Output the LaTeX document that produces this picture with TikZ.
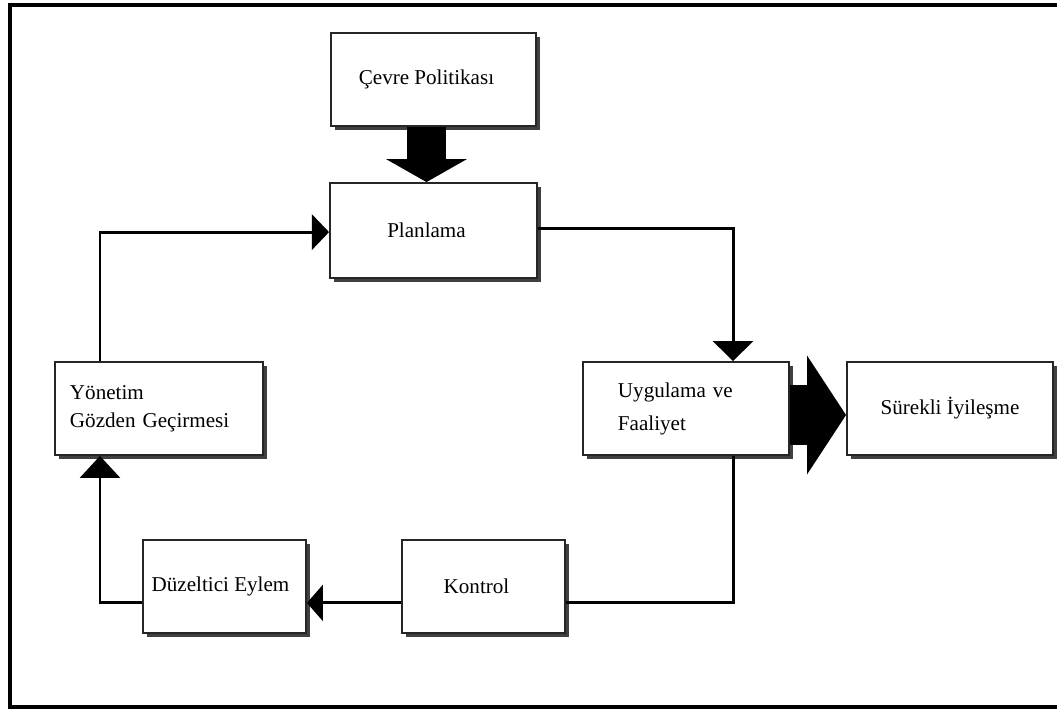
\documentclass[tikz,border=0pt]{standalone}
\usepackage{fontspec}
\setmainfont{Liberation Serif}
\usetikzlibrary{arrows.meta,shadows}
\begin{document}
\begin{tikzpicture}[x=0.025cm,y=-0.025cm,
  box/.style={draw=black!85,line width=1.3pt,fill=white,inner sep=0pt,
    minimum height=2.325cm,
    font=\fontsize{15}{20}\selectfont,
    drop shadow={shadow xshift=0.1cm,shadow yshift=-0.1cm,fill=black!75,opacity=1}},
  conn/.style={line width=2.1pt,draw=black},
  tip/.style={-{Triangle[length=0.5cm,width=0.95cm]}},
  fat/.style={draw=black,line cap=butt}]
\useasboundingbox (0,0) rectangle (1057,709);
\fill[white] (0,0) rectangle (1057,709);
% frame
\draw[line width=2.9pt] (1057,5) -- (10,5) -- (10,707) -- (1057,707);
% boxes
\node[box,minimum width=5.125cm] (cevre) at (433.5,79.5) {\hspace*{-0.35cm}Çevre Politikası};
\node[box,minimum width=5.175cm,minimum height=2.375cm] (plan) at (433.5,230.5) {\hspace*{-0.35cm}Planlama};
\node[box,minimum width=5.15cm,text width=3.4cm,inner xsep=0.875cm,align=left,
      font=\fontsize{15}{23.5}\selectfont] (uyg) at (686,408.5) {Uygulama ve\\Faaliyet};
\node[box,minimum width=5.15cm] (surek) at (950,408.5) {Sürekli İyileşme};
\node[box,minimum width=5.2cm,text width=4.45cm,inner xsep=0.375cm,align=left] (yon) at (159,408.5) {Yönetim\\Gözden Geçirmesi};
\node[box,minimum width=4.075cm] (duz) at (224.5,586.5) {\hspace*{-0.2cm}Düzeltici Eylem};
\node[box,minimum width=4.075cm] (kon) at (483.5,586.5) {\hspace*{-0.35cm}Kontrol};
% fat arrows
\draw[fat,line width=0.975cm,-{Triangle[length=0.575cm,width=2cm]}]
  ([xshift=-0.175cm]cevre.south) -- ([xshift=-0.175cm]plan.north);
\draw[fat,line width=1.5cm,-{Triangle[length=0.975cm,width=2.925cm]}]
  ([yshift=-0.1625cm]uyg.east) -- ([yshift=-0.1625cm]surek.west);
% connectors
\draw[conn,-{Triangle[length=0.5cm,width=1cm]}]
  ([yshift=0.05cm]plan.east) -| ([xshift=1.175cm]uyg.north);
\draw[conn] ([xshift=1.175cm]uyg.south) |- ([yshift=-0.41cm]kon.east);
\draw[conn,-{Triangle[length=0.4cm,width=0.9cm]}]
  ([yshift=-0.41cm]kon.west) -- ([yshift=-0.41cm]duz.east);
\draw[conn,-{Triangle[length=0.55cm,width=1cm]}]
  ([yshift=-0.41cm]duz.west) -| ([xshift=-1.475cm]yon.south);
\draw[conn,-{Triangle[length=0.43cm,width=0.88cm]}]
  ([xshift=-1.475cm]yon.north) |- ([yshift=-0.04cm]plan.west);
\end{tikzpicture}
\end{document}
